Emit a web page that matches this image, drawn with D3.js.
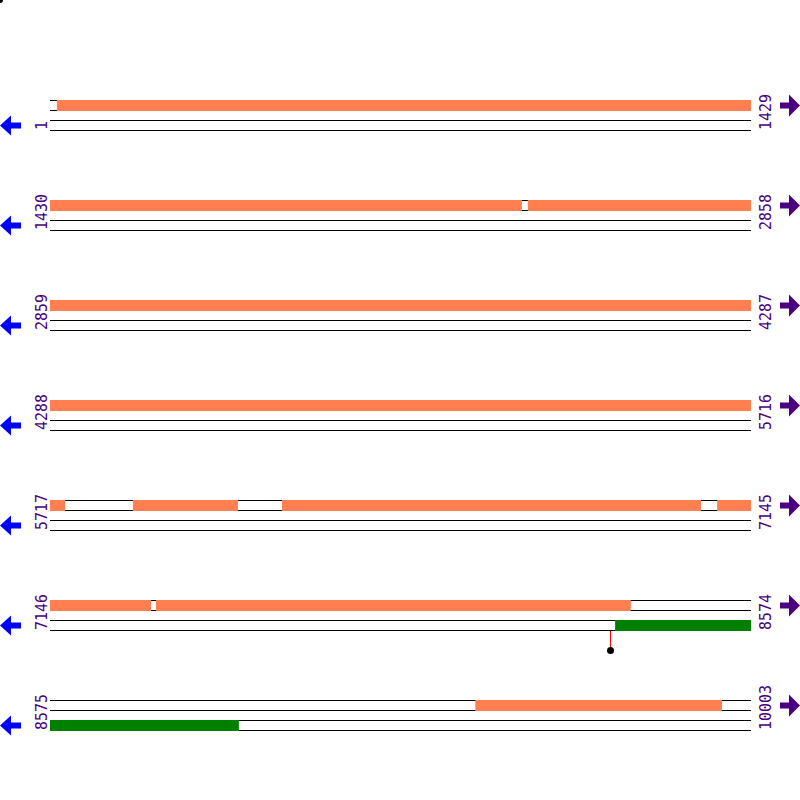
<!DOCTYPE html>
<html>
<head>
<meta charset="utf-8">
<script src="https://cdn.jsdelivr.net/npm/d3@7"></script>
<style>
  body { margin: 0; background: #fff; }
  svg { display: block; }
  .num { font-family: "DejaVu Sans Mono", monospace; font-size: 15px; fill: #4b0082; }
</style>
</head>
<body>
<svg width="800" height="800"></svg>
<script>
// one row per 1429 bases
const rowStarts = [1, 1430, 2859, 4288, 5717, 7146, 8575];
const rowEnds = [1429, 2858, 4287, 5716, 7145, 8574, 10003];
// forward strand features (start, end)
const fwdFeatures = [[15, 2392], [2404, 5748], [5886, 6100], [6190, 7044], [7077, 7352], [7362, 8330], [9442, 9945]];
// reverse strand features
const revFeatures = [[8298, 8960]];
// marked sites on reverse strand
const sites = [8288];

const svg = d3.select("svg");

const rowY = d3.scaleLinear().domain([0, 1]).range([100, 200]);
const rowLen = 1429;

svg.append("circle").attr("cx", 0).attr("cy", 0).attr("r", 3).attr("fill", "#000");

rowStarts.forEach((s, i) => {
  const e = rowEnds[i];
  const y0 = rowY(i);
  const x = d3.scaleLinear().domain([s, s + rowLen]).range([50, 751]);
  const g = svg.append("g").attr("class", "row");

  // strand lines
  [0, 10, 20, 30].forEach(dy => {
    g.append("line")
      .attr("x1", 50).attr("x2", 751)
      .attr("y1", y0 + dy + 0.5).attr("y2", y0 + dy + 0.5)
      .attr("stroke", "#000").attr("stroke-width", 1);
  });

  const clip = f => [Math.max(f[0], s), Math.min(f[1], s + rowLen)];

  g.selectAll("rect.fwd")
    .data(fwdFeatures.filter(f => f[1] >= s && f[0] <= e).map(clip))
    .enter()
    .append("rect")
    .attr("class", "fwd")
    .attr("x", d => x(d[0]))
    .attr("width", d => x(d[1]) - x(d[0]))
    .attr("y", y0)
    .attr("height", 11)
    .attr("fill", "#ff7f50");

  g.selectAll("rect.rev")
    .data(revFeatures.filter(f => f[1] >= s && f[0] <= e).map(clip))
    .enter()
    .append("rect")
    .attr("class", "rev")
    .attr("x", d => x(d[0]))
    .attr("width", d => x(d[1]) - x(d[0]))
    .attr("y", y0 + 20)
    .attr("height", 11)
    .attr("fill", "#008000");

  const rowSites = sites.filter(p => p >= s && p <= e);
  rowSites.forEach(p => {
    g.append("line")
      .attr("x1", Math.round(x(p)) + 0.5).attr("x2", Math.round(x(p)) + 0.5)
      .attr("y1", y0 + 31).attr("y2", y0 + 50)
      .attr("stroke", "red").attr("stroke-width", 1);
    g.append("circle")
      .attr("cx", Math.round(x(p)) + 0.5).attr("cy", y0 + 50.5)
      .attr("r", 3.5).attr("fill", "#000");
  });

  // position labels
  g.append("text")
    .attr("class", "num")
    .attr("transform", `translate(47,${y0 + 30}) rotate(-90)`)
    .text(s);
  g.append("text")
    .attr("class", "num")
    .attr("transform", `translate(771,${y0 + 30}) rotate(-90)`)
    .text(e);

  // strand arrows
  const ly = y0 + 25.5;
  g.append("polygon")
    .attr("points", [[0, 0], [11, -10], [11, -3], [21, -3], [21, 3], [11, 3], [11, 10]]
      .map(p => [p[0], p[1] + ly].join(",")).join(" "))
    .attr("fill", "#0000ff");
  const ry = y0 + 5.5;
  g.append("polygon")
    .attr("points", [[800, 0], [789, -11], [789, -3], [780, -3], [780, 3], [789, 3], [789, 11]]
      .map(p => [p[0], p[1] + ry].join(",")).join(" "))
    .attr("fill", "#4b0082");
});
</script>
</body>
</html>
